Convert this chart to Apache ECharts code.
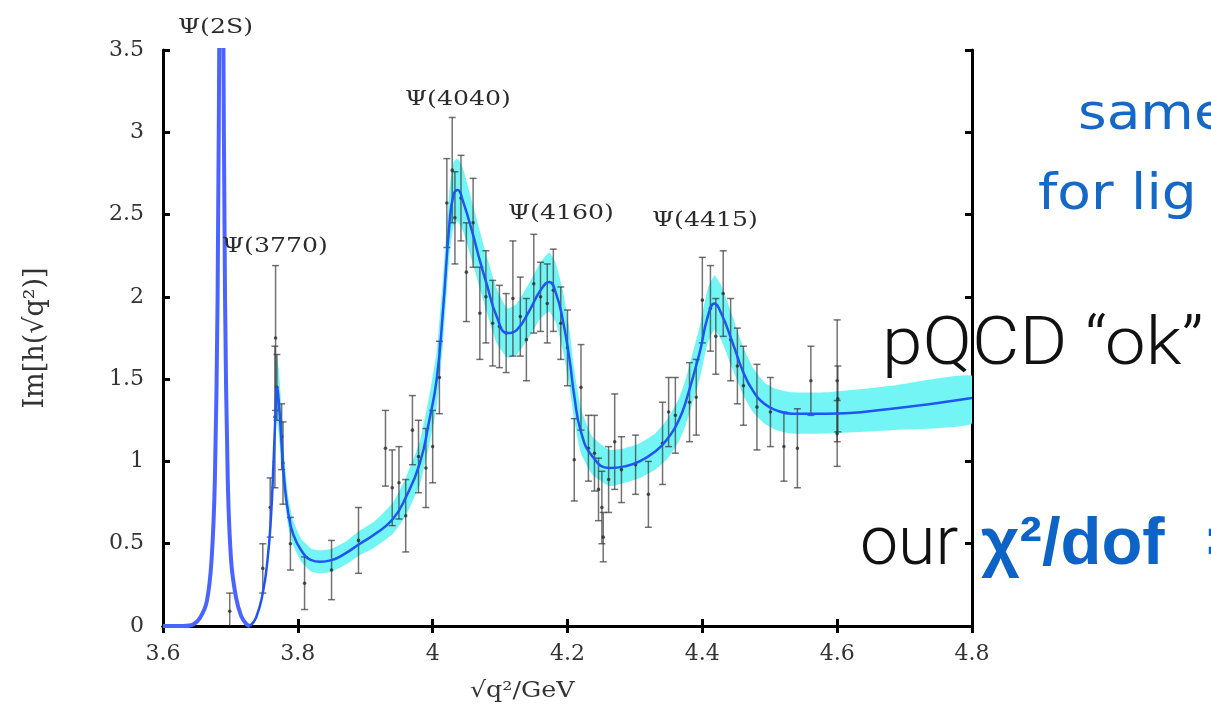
<!DOCTYPE html>
<html>
<head>
<meta charset="utf-8">
<script src="https://cdn.jsdelivr.net/npm/echarts@6/dist/echarts.min.js"></script>
<style>
  html, body { margin: 0; padding: 0; background: #fff; }
  #chart { width: 1211px; height: 721px; }
</style>
</head>
<body>
<div id="chart"></div>
<script>
// axis ticks
var xTicks = [3.6, 3.8, 4.0, 4.2, 4.4, 4.6, 4.8];
var yTicks = [0, 0.5, 1, 1.5, 2, 2.5, 3, 3.5];

// Psi(2S) narrow peak (goes off the top)
var psi2sX = [3.600, 3.630, 3.645, 3.655, 3.665, 3.672, 3.677, 3.681, 3.684, 3.6865, 3.689, 3.692, 3.696, 3.701, 3.708, 3.716, 3.724, 3.729];
var psi2sY = [0, 0, 0.01, 0.05, 0.15, 0.40, 0.90, 2.00, 4.00, 6.00, 4.00, 2.00, 0.90, 0.40, 0.18, 0.06, 0.01, 0];

// fitted curve
var fitX = [3.729, 3.738, 3.748, 3.755, 3.760, 3.764, 3.767, 3.769, 3.772, 3.776, 3.780, 3.786, 3.793, 3.805, 3.820, 3.833, 3.850, 3.870, 3.892, 3.915, 3.941, 3.960, 3.981, 3.995, 4.006, 4.015, 4.025, 4.031, 4.037, 4.045, 4.059, 4.070, 4.080, 4.095, 4.111, 4.125, 4.144, 4.160, 4.173, 4.183, 4.193, 4.203, 4.210, 4.220, 4.237, 4.262, 4.285, 4.307, 4.330, 4.347, 4.365, 4.376, 4.396, 4.408, 4.418, 4.428, 4.445, 4.460, 4.475, 4.492, 4.510, 4.533, 4.584, 4.681, 4.800];
var fitY = [0, 0.05, 0.20, 0.40, 0.65, 1.00, 1.30, 1.45, 1.35, 1.10, 0.88, 0.68, 0.56, 0.46, 0.40, 0.39, 0.40, 0.44, 0.50, 0.56, 0.65, 0.78, 0.99, 1.25, 1.50, 1.90, 2.45, 2.62, 2.65, 2.58, 2.39, 2.22, 2.08, 1.88, 1.78, 1.80, 1.92, 2.04, 2.09, 2.02, 1.86, 1.62, 1.40, 1.18, 1.03, 0.96, 0.97, 1.00, 1.06, 1.13, 1.25, 1.37, 1.66, 1.88, 1.96, 1.90, 1.72, 1.55, 1.43, 1.35, 1.31, 1.29, 1.29, 1.32, 1.385];

// error band of the fit
var bandX = [3.768, 3.772, 3.776, 3.780, 3.786, 3.793, 3.805, 3.820, 3.833, 3.850, 3.870, 3.892, 3.915, 3.941, 3.960, 3.981, 3.995, 4.006, 4.015, 4.025, 4.031, 4.037, 4.045, 4.059, 4.070, 4.080, 4.095, 4.111, 4.125, 4.144, 4.160, 4.173, 4.183, 4.193, 4.203, 4.210, 4.220, 4.237, 4.262, 4.285, 4.307, 4.330, 4.347, 4.365, 4.376, 4.396, 4.408, 4.418, 4.428, 4.445, 4.460, 4.475, 4.492, 4.510, 4.533, 4.584, 4.681, 4.800];
var bandLow = [1.30, 1.15, 0.95, 0.78, 0.60, 0.49, 0.39, 0.33, 0.32, 0.33, 0.37, 0.43, 0.48, 0.56, 0.67, 0.86, 1.10, 1.33, 1.70, 2.25, 2.43, 2.46, 2.40, 2.21, 2.05, 1.91, 1.72, 1.63, 1.65, 1.76, 1.87, 1.91, 1.84, 1.68, 1.45, 1.25, 1.05, 0.92, 0.85, 0.87, 0.90, 0.95, 1.01, 1.12, 1.23, 1.50, 1.72, 1.80, 1.74, 1.56, 1.41, 1.30, 1.23, 1.19, 1.17, 1.17, 1.19, 1.23];
var bandHigh = [1.66, 1.55, 1.30, 1.02, 0.78, 0.64, 0.53, 0.47, 0.46, 0.47, 0.51, 0.58, 0.64, 0.75, 0.90, 1.12, 1.40, 1.67, 2.10, 2.65, 2.82, 2.84, 2.78, 2.57, 2.40, 2.25, 2.05, 1.93, 1.96, 2.09, 2.21, 2.27, 2.20, 2.04, 1.80, 1.56, 1.32, 1.15, 1.07, 1.08, 1.11, 1.17, 1.25, 1.38, 1.51, 1.82, 2.05, 2.13, 2.07, 1.88, 1.70, 1.57, 1.48, 1.44, 1.42, 1.42, 1.46, 1.52];

// data points with errors
var ptX = [3.699, 3.748, 3.759, 3.766, 3.767, 3.769, 3.776, 3.778, 3.789, 3.810, 3.850, 3.890,
  3.930, 3.940, 3.950, 3.960, 3.970, 3.979, 3.990, 4.000, 4.010, 4.021, 4.029, 4.033, 4.042, 4.050, 4.060,
  4.070, 4.079, 4.089, 4.099, 4.109, 4.119, 4.130, 4.139, 4.150, 4.160, 4.170, 4.179, 4.190, 4.200,
  4.210, 4.220, 4.231, 4.240, 4.246, 4.251, 4.253, 4.261, 4.270, 4.280, 4.301, 4.320, 4.341, 4.350,
  4.360, 4.381, 4.391, 4.400, 4.412, 4.420, 4.431, 4.442, 4.452, 4.461, 4.481, 4.501, 4.521, 4.541,
  4.561, 4.600, 4.600, 4.601];
var ptY = [0.09, 0.35, 0.72, 1.27, 1.75, 1.45, 1.15, 0.99, 0.50, 0.26, 0.34, 0.52,
  1.08, 0.84, 0.87, 0.67, 1.19, 1.03, 0.96, 1.09, 1.51, 2.57, 2.77, 2.48, 2.60, 2.15, 2.45,
  1.90, 2.00, 1.84, 1.82, 1.78, 1.99, 1.88, 1.74, 2.08, 2.00, 1.96, 2.04, 1.84, 1.69,
  1.01, 1.45, 1.08, 1.05, 0.83, 0.72, 0.54, 0.89, 1.12, 0.95, 0.98, 0.80, 1.11, 1.30,
  1.28, 1.36, 1.39, 1.98, 1.93, 1.76, 2.02, 1.74, 1.58, 1.46, 1.33, 1.30, 1.09, 1.08,
  1.49, 1.49, 1.17, 1.38];
var ptErr = [0.11, 0.15, 0.18, 0.43, 0.44, 0.20, 0.20, 0.25, 0.16, 0.16, 0.18, 0.20,
  0.23, 0.23, 0.22, 0.22, 0.21, 0.22, 0.24, 0.22, 0.22, 0.27, 0.32, 0.28, 0.26, 0.30, 0.27,
  0.28, 0.28, 0.26, 0.25, 0.24, 0.35, 0.24, 0.25, 0.30, 0.21, 0.24, 0.25, 0.22, 0.23,
  0.25, 0.26, 0.20, 0.23, 0.19, 0.22, 0.15, 0.20, 0.29, 0.20, 0.18, 0.20, 0.25, 0.21,
  0.23, 0.24, 0.23, 0.26, 0.26, 0.23, 0.26, 0.25, 0.23, 0.24, 0.26, 0.21, 0.21, 0.24,
  0.21, 0.37, 0.20, 0.20];

// resonance labels: [text, x px, y px]
var peakLabels = [
  ['Ψ(2S)', 178, 28],
  ['Ψ(3770)', 222, 247],
  ['Ψ(4040)', 405, 100],
  ['Ψ(4160)', 508, 214],
  ['Ψ(4415)', 652, 221]
];

var zip = function (xs, ys) { return xs.map(function (x, i) { return [x, ys[i]]; }); };

var chart = echarts.init(document.getElementById('chart'));
var serif = 'DejaVu Serif';
var frame = { lineStyle: { color: '#000', width: 3 } };
var ticks = { inside: true, length: 7, lineStyle: { width: 3, color: '#000' } };

var graphics = peakLabels.map(function (p) {
  return {
    type: 'text', x: p[1], y: p[2], scaleX: 1.2, z: 100,
    style: { text: p[0], font: '21px "' + serif + '"', fill: '#2b2b2b', verticalAlign: 'middle' }
  };
});
graphics.push(
  { type: 'text', x: 470, y: 691, scaleX: 1.15,
    style: { text: '√q²/GeV', font: '22px "' + serif + '"', fill: '#333', verticalAlign: 'middle' } },
  { type: 'text', x: 1078, y: 116, scaleX: 1.1,
    style: { text: 'same', font: '50px "DejaVu Sans"', fill: '#1668c6', verticalAlign: 'middle' } },
  { type: 'text', x: 1038, y: 196, scaleX: 1.1,
    style: { text: 'for lig', font: '50px "DejaVu Sans"', fill: '#1668c6', verticalAlign: 'middle' } },
  { type: 'text', x: 882, y: 347, z: 100, scaleX: 1.09,
    style: { text: 'pQCD \u201cok\u201d', font: '300 67px Roboto, "Liberation Sans"', fill: '#111', verticalAlign: 'middle' } },
  { type: 'text', x: 860, y: 547, z: 100,
    style: { text: 'our', font: '300 68px Roboto, "Liberation Sans"', fill: '#111', verticalAlign: 'middle' } },
  { type: 'text', x: 981, y: 546, z: 100,
    style: { text: 'χ²/dof', font: 'bold 67px "Liberation Sans"', fill: '#0d63c6', verticalAlign: 'middle' } },
  { type: 'text', x: 1206, y: 546, z: 100,
    style: { text: '=', font: 'bold 67px "Liberation Sans"', fill: '#0d63c6', verticalAlign: 'middle' } }
);

var option = {
  backgroundColor: '#fff',
  animation: false,
  grid: { left: 163, top: 50, width: 809, height: 576 },
  xAxis: [
    { type: 'value', min: 3.6, max: 4.8, interval: 0.2, position: 'bottom',
      axisLine: frame, axisTick: ticks,
      axisLabel: { margin: 17, fontFamily: serif, fontSize: 22, color: '#333',
        formatter: function (v) { return xTicks.indexOf(+v.toFixed(1)) >= 0 ? String(+v.toFixed(1)) : ''; } },
      splitLine: { show: false } },
    { type: 'value', min: 3.6, max: 4.8, interval: 0.2, position: 'top',
      axisLine: frame, axisTick: ticks, axisLabel: { show: false }, splitLine: { show: false } }
  ],
  yAxis: [
    { type: 'value', min: 0, max: 3.5, interval: 0.5, position: 'left',
      name: 'Im[h(√q²)]', nameLocation: 'middle', nameGap: 114, nameRotate: 90,
      nameTextStyle: { fontFamily: serif, fontSize: 27, color: '#333' },
      axisLine: frame, axisTick: ticks,
      axisLabel: { margin: 19, fontFamily: serif, fontSize: 22, color: '#333',
        formatter: function (v) { return yTicks.indexOf(+v.toFixed(1)) >= 0 ? String(+v.toFixed(1)) : ''; } },
      splitLine: { show: false } },
    { type: 'value', min: 0, max: 3.5, interval: 0.5, position: 'right',
      axisLine: frame, axisTick: ticks, axisLabel: { show: false }, splitLine: { show: false } }
  ],
  graphic: graphics,
  series: [
    { type: 'custom', name: 'band', z: 1, clip: true,
      data: [[bandX[0], bandLow[0]]],
      renderItem: function (params, api) {
        var pts = [];
        for (var i = 0; i < bandX.length; i++) pts.push(api.coord([bandX[i], bandHigh[i]]));
        for (var j = bandX.length - 1; j >= 0; j--) pts.push(api.coord([bandX[j], bandLow[j]]));
        return { type: 'polygon', shape: { points: pts, smooth: 0.15 }, style: { fill: '#74f5f5' } };
      } },
    { type: 'custom', name: 'data', z: 3, clip: true,
      data: ptX.map(function (x, i) { return [x, ptY[i], ptErr[i]]; }),
      renderItem: function (params, api) {
        var x = api.value(0), y = api.value(1), e = api.value(2);
        var lo = api.coord([x, y - e]), hi = api.coord([x, y + e]), c = api.coord([x, y]);
        var st = { stroke: 'rgba(55,55,55,0.7)', lineWidth: 1.5 };
        return { type: 'group', children: [
          { type: 'line', shape: { x1: lo[0], y1: lo[1], x2: hi[0], y2: hi[1] }, style: st },
          { type: 'line', shape: { x1: lo[0] - 3.5, y1: lo[1], x2: lo[0] + 3.5, y2: lo[1] }, style: st },
          { type: 'line', shape: { x1: hi[0] - 3.5, y1: hi[1], x2: hi[0] + 3.5, y2: hi[1] }, style: st },
          { type: 'circle', shape: { cx: c[0], cy: c[1], r: 1.8 }, style: { fill: 'rgba(45,45,45,0.8)' } }
        ] };
      } },
    { type: 'line', name: 'psi2S', data: zip(psi2sX, psi2sY), symbol: 'none',
      smooth: 0.3, clip: true, lineStyle: { color: '#4b64ff', width: 4 }, z: 4 },
    { type: 'line', name: 'fit', data: zip(fitX, fitY), symbol: 'none',
      smooth: 0.5, lineStyle: { color: '#1f55f0', width: 2.5 }, z: 5 }
  ]
};
chart.setOption(option);
</script>
</body>
</html>
